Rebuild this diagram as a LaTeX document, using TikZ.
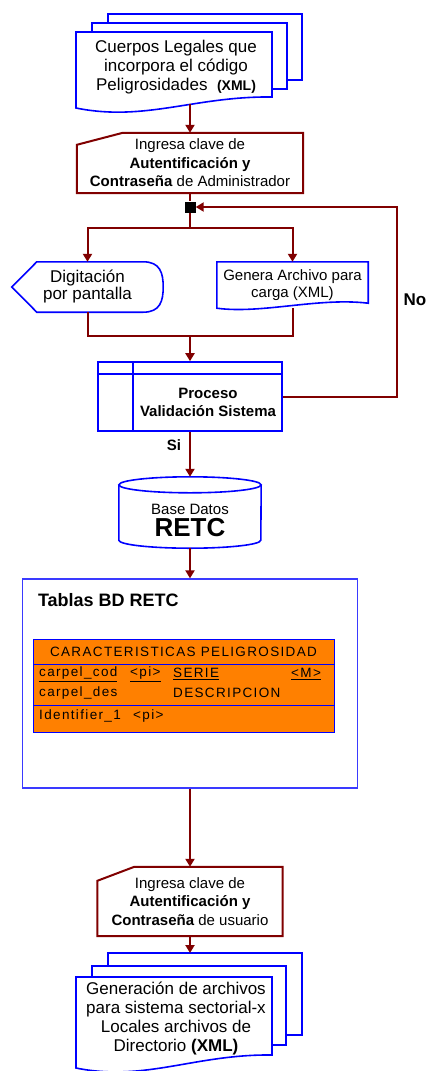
\documentclass[tikz,border=0pt]{standalone}
\usepackage{fontspec}
\setmainfont{Liberation Sans}
\newfontfamily\tblfont[LetterSpace=10]{Liberation Sans}
\usetikzlibrary{
  arrows.meta,
  calc,
  positioning,
}
\definecolor{flowred}{HTML}{800000}
\definecolor{shapeblue}{HTML}{0000FF}
\definecolor{boxblue}{HTML}{3A3AFF}
\definecolor{tableorange}{HTML}{FF8000}
\newcommand{\fsz}[2]{\fontsize{#1}{#2}\selectfont}

\begin{document}
\begin{tikzpicture}[x=1pt, y=-1pt,
  conn/.style={draw=flowred, line width=2pt},
  arr/.style={conn, -{Triangle[length=8pt,width=9pt]}},
  sheet/.style={draw=shapeblue, line width=1.6pt, fill=white},
  shapeline/.style={draw=shapeblue, line width=1.6pt},
  manualbox/.style={align=center, inner sep=0pt, font=\fsz{15}{18.5}},
  manualline/.style={draw=flowred, line width=2pt},
  txt/.style={align=center, inner sep=0pt},
  tbl/.style={draw=shapeblue, line width=0.9pt, fill=tableorange,
    minimum width=301pt, inner sep=0pt, outer sep=0pt},
  fld/.style={anchor=west, inner sep=0pt, font=\tblfont\fsz{13.5}{16}},
]
\useasboundingbox (0,0) rectangle (430,1071);

% documentos de entrada
\draw[sheet] (108,14) rectangle (302,80);
\draw[sheet] (92,23) rectangle (287,89);
\draw[sheet] (76,32) -- (272,32) -- (272,97) .. controls (195,96) and (145,122) .. (76,108) -- cycle;
\node[txt, font=\fsz{17}{19}] (legales) at (176,67)
  {Cuerpos Legales que\\incorpora el código\\Peligrosidades\ \ {\fsz{14}{19}\textbf{(XML)}}};
\coordinate (legalesB) at (190,104);

% ingreso administrador
\node[manualbox, minimum width=226pt, minimum height=60pt] (ingA) at (190,163)
  {Ingresa clave de\\\textbf{Autentificación y}\\\textbf{Contraseña} de Administrador};
\draw[manualline] (ingA.south west) -- ($(ingA.north west)+(0,12)$) -- ($(ingA.north west)+(46,0)$)
  -- (ingA.north east) -- (ingA.south east) -- cycle;
\draw[arr] (legalesB) -- (ingA);

\node[fill=black, minimum size=11pt, inner sep=0pt] (junc) at (190,207) {};
\coordinate (split) at (190,228);
\draw[conn] (ingA) -- (junc);

% digitacion y archivo
\node[txt, font=\fsz{17}{17}, minimum width=151pt, minimum height=50pt] (digit) at (87.5,287)
  {Digitación\\por pantalla};
\draw[shapeline] (digit.west) -- ($(digit.north west)+(25,0)$) -- ($(digit.north east)+(-20,0)$)
  .. controls ($(digit.north east)+(-3,0)$) and ($(digit.east)+(0,-14)$) .. (digit.east)
  .. controls ($(digit.east)+(0,14)$) and ($(digit.south east)+(-3,0)$) .. ($(digit.south east)+(-20,0)$)
  -- ($(digit.south west)+(25,0)$) -- cycle;

\node[txt, font=\fsz{15}{17}, minimum width=151pt, minimum height=46pt] (genera) at (292.5,285)
  {Genera Archivo para\\carga (XML)};
\draw[shapeline] (genera.north west) -- (genera.north east) -- ($(genera.south east)+(0,-5)$)
  .. controls ($(genera.south east)+(-50,-11)$) and ($(genera.south west)+(45,6)$) .. (genera.south west)
  -- cycle;

\draw[arr] (junc) -- (split) -| (digit);
\draw[arr] (split) -| (genera);

\coordinate (merge) at (190,336);
\draw[conn] (digit.south) |- (merge);
\draw[conn] (genera.south) |- (merge);

% proceso validacion
\node[shapeline, minimum width=184pt, minimum height=69pt] (proc) at (190,396.5) {};
\draw[shapeline] ($(proc.north west)+(0,13)$) -- ($(proc.north east)+(0,13)$);
\draw[shapeline] ($(proc.north west)+(36,0)$) -- ($(proc.south west)+(36,0)$);
\node[txt, font=\bfseries\fsz{15}{18}] (proctxt) at ($(proc.center)+(18,6)$) {Proceso\\Validación Sistema};
\draw[arr] (merge) -- (proc);

\draw[arr] (proc.east) -- ++(114,0) |- (junc.east);
\node[font=\bfseries\fsz{17}{20}, inner sep=0pt] (no) at (415,300) {No};

% base de datos
\node[minimum width=142pt, minimum height=71pt, inner sep=0pt] (bd) at (190,512.5) {};
\draw[shapeline] ($(bd.north)+(0,8)$) ellipse [x radius=71pt, y radius=8pt];
\draw[shapeline] ($(bd.north west)+(0,8)$) -- ($(bd.south west)+(0,-8)$)
  arc [start angle=180, end angle=360, x radius=71pt, y radius=8pt] -- ($(bd.north east)+(0,8)$);
\node[txt, font=\fsz{15}{18}] (bdtxt) at (190,509) {Base Datos};
\node[txt, font=\bfseries\fsz{26}{28}, below=4pt of bdtxt] (retc) {RETC};
\draw[arr] (proc) -- (bd);
\node[font=\bfseries\fsz{15}{18}, inner sep=0pt] (si) at (174,445) {Si};

% tablas
\node[draw=boxblue, line width=1.3pt, minimum width=335pt, minimum height=209pt] (tablas) at (190,683.5) {};
\node[anchor=west, font=\bfseries\fsz{18}{20}, inner sep=0pt] (tabtitulo) at ($(tablas.north west)+(16,22)$) {Tablas BD RETC};
\draw[arr] (bd) -- (tablas);

\node[tbl, minimum height=25pt, font=\tblfont\fsz{13.5}{16}] (thead) at (183.5,651.5) {CARACTERISTICAS PELIGROSIDAD};
\node[tbl, minimum height=41pt, below=0pt of thead] (tbody) {};
\node[tbl, minimum height=27pt, below=0pt of tbody] (tkey) {};

\node[fld] (cod) at (39,674) {\underline{carpel\_cod}};
\node[fld] (codpi) at (130,674) {\underline{<pi>}};
\node[fld] (serie) at (173,674) {\underline{SERIE}};
\node[fld] (serm) at (291,674) {\underline{<M>}};
\node[fld] (des) at (39,693) {carpel\_des};
\node[fld] (descr) at (173,693) {DESCRIPCION};
\node[fld] (ident) at (39,716) {Identifier\_1};
\node[fld] (identpi) at (133,716) {<pi>};

% ingreso usuario
\node[manualbox, minimum width=185pt, minimum height=69pt] (ingB) at (190,901.5)
  {Ingresa clave de\\\textbf{Autentificación y}\\\textbf{Contraseña} de usuario};
\draw[manualline] (ingB.south west) -- ($(ingB.north west)+(0,14)$) -- ($(ingB.north west)+(37,0)$)
  -- (ingB.north east) -- (ingB.south east) -- cycle;
\draw[arr] (tablas) -- (ingB);

% documentos de salida
\draw[sheet] (108,953) rectangle (302,1035);
\draw[sheet] (92,966) rectangle (286,1045);
\draw[sheet] (76,977) -- (272,977) -- (272,1055) .. controls (195,1054) and (145,1082) .. (76,1068) -- cycle;
\coordinate (genTop) at (190,953);
\draw[arr] (ingB) -- (genTop);
\node[txt, font=\fsz{17}{19}] (gen) at (176,1018)
  {Generación de archivos\\para sistema sectorial-x\\Locales archivos de\\Directorio \textbf{(XML)}};
\end{tikzpicture}
\end{document}
